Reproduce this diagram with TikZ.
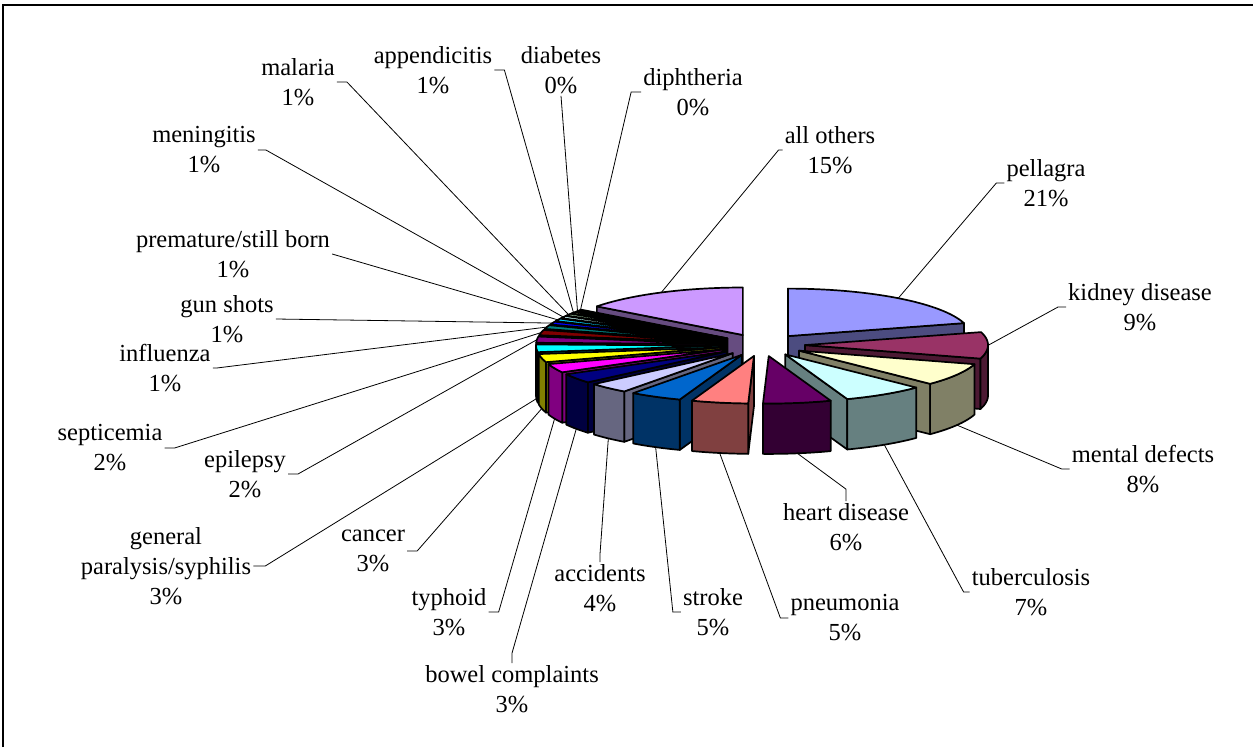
\documentclass[tikz,border=0pt]{standalone}
\usepackage{fontspec}
\setmainfont{Liberation Serif}
\usepackage{tikz}

\newcommand\piehgt{0.285}
\newcommand\pieexpl{0.235}
\newcommand\pieslice[4]{%
  \pgfmathsetmacro\slM{(#1+#2)/2}%
  \pgfmathsetmacro\slX{\pieexpl*sin(\slM)}%
  \pgfmathsetmacro\slY{\pieexpl*cos(\slM)}%
  \definecolor{slicetop}{HTML}{#3}%
  \colorlet{sliceside}{slicetop!50!black}%
  \pgfmathtruncatemacro\slShowA{sin(#1)<-0.001 ? 1 : 0}%
  \pgfmathtruncatemacro\slShowB{sin(#2)>0.001 ? 1 : 0}%
  \pgfmathsetmacro\slLo{max(#1,90)}%
  \pgfmathsetmacro\slHi{min(#2,270)}%
  \pgfmathtruncatemacro\slShowO{\slHi>\slLo ? 1 : 0}%
  \ifnum\slShowA=1
    \filldraw[sliceface,fill=sliceside] (\slX,\slY,0) -- ({\slX+sin(#1)},{\slY+cos(#1)},0) -- ({\slX+sin(#1)},{\slY+cos(#1)},-\piehgt) -- (\slX,\slY,-\piehgt) -- cycle;
  \fi
  \ifnum\slShowB=1
    \filldraw[sliceface,fill=sliceside] (\slX,\slY,0) -- ({\slX+sin(#2)},{\slY+cos(#2)},0) -- ({\slX+sin(#2)},{\slY+cos(#2)},-\piehgt) -- (\slX,\slY,-\piehgt) -- cycle;
  \fi
  \ifnum\slShowO=1
    \filldraw[sliceface,fill=sliceside] plot[domain=\slLo:\slHi,samples=30] ({\slX+sin(\x)},{\slY+cos(\x)},0) -- plot[domain=0:1,samples=30] ({\slX+sin(\slHi+(\slLo-\slHi)*\x)},{\slY+cos(\slHi+(\slLo-\slHi)*\x)},-\piehgt) -- cycle;
  \fi
  \filldraw[sliceface,fill=slicetop] (\slX,\slY,0) -- plot[domain=#1:#2,samples=40] ({\slX+sin(\x)},{\slY+cos(\x)},0) -- cycle;
  \pgfmathsetmacro\slZ{cos(\slM)<-0.01 ? -\piehgt : 0}%
  \coordinate (#4-rim) at ({\slX+sin(\slM)},{\slY+cos(\slM)},\slZ);%
}

\tikzset{
  sliceface/.style={draw=black,line width=1.7pt,line join=round},
  lbl/.style={align=center,inner sep=2pt,font=\fontsize{24.5}{30}\selectfont},
  leader/.style={draw=black,line width=0.8pt}
}

\begin{document}
\begin{tikzpicture}[x=1pt,y=-1pt]
        \useasboundingbox (0,0) rectangle (1253,747);
        \draw[line width=2pt] (3,747) -- (3,5) -- (1253,5);

        \begin{scope}[shift={(762,345)},x={(183pt,0pt)},y={(0pt,47.5pt)},z={(0pt,176.8pt)}]
        \pieslice{307.08}{360}{CC99FF}{others}
        \pieslice{0}{74.16}{9999FF}{pellagra}
        \pieslice{306}{307.08}{FF99CC}{diphtheria}
        \pieslice{304.56}{306}{99CCFF}{diabetes}
        \pieslice{302.4}{304.56}{FFFF99}{appendicitis}
        \pieslice{299.88}{302.4}{CCFFCC}{malaria}
        \pieslice{297}{299.88}{CCFFFF}{meningitis}
        \pieslice{293.76}{297}{00CCFF}{premature}
        \pieslice{290.16}{293.76}{0000FF}{gunshots}
        \pieslice{285.48}{290.16}{008080}{influenza}
        \pieslice{279}{285.48}{800000}{septicemia}
        \pieslice{271.44}{279}{800080}{epilepsy}
        \pieslice{74.16}{106.56}{993366}{kidney}
        \pieslice{262.08}{271.44}{00FFFF}{syphilis}
        \pieslice{252}{262.08}{FFFF00}{cancer}
        \pieslice{106.56}{134.28}{FFFFCC}{mental}
        \pieslice{241.2}{252}{FF00FF}{typhoid}
        \pieslice{229.32}{241.2}{000080}{bowel}
        \pieslice{216.36}{229.32}{CCCCFF}{accidents}
        \pieslice{134.28}{160.2}{CCFFFF}{tuberculosis}
        \pieslice{199.8}{216.36}{0066CC}{stroke}
        \pieslice{181.8}{199.8}{FF8080}{pneumonia}
        \pieslice{160.2}{181.8}{660066}{heart}
        \end{scope}

        \node[lbl] (malaria) at (298,82) {malaria\\1\%};
        \node[lbl] (appendicitis) at (433,70) {appendicitis\\1\%};
        \node[lbl] (diabetes) at (561,70) {diabetes\\0\%};
        \node[lbl] (diphtheria) at (693,92) {diphtheria\\0\%};
        \node[lbl] (others) at (830,150) {all others\\15\%};
        \node[lbl] (pellagra) at (1046,183) {pellagra\\21\%};
        \node[lbl] (kidney) at (1140,307) {kidney disease\\9\%};
        \node[lbl] (mental) at (1143,469) {mental defects\\8\%};
        \node[lbl] (heart) at (846,527) {heart disease\\6\%};
        \node[lbl] (tuberculosis) at (1031,592) {tuberculosis\\7\%};
        \node[lbl] (pneumonia) at (845,618) {pneumonia\\5\%};
        \node[lbl] (stroke) at (713,612) {stroke\\5\%};
        \node[lbl] (accidents) at (600,588) {accidents\\4\%};
        \node[lbl] (bowel) at (512,689) {bowel complaints\\3\%};
        \node[lbl] (typhoid) at (449,612) {typhoid\\3\%};
        \node[lbl] (cancer) at (373,551) {cancer\\3\%};
        \node[lbl] (syphilis) at (166,566) {general\\paralysis/syphilis\\3\%};
        \node[lbl] (epilepsy) at (245,474) {epilepsy\\2\%};
        \node[lbl] (septicemia) at (110,448) {septicemia\\2\%};
        \node[lbl] (influenza) at (165,368) {influenza\\1\%};
        \node[lbl] (gunshots) at (227,319) {gun shots\\1\%};
        \node[lbl] (premature) at (233,254) {premature/still born\\1\%};
        \node[lbl] (meningitis) at (204,150) {meningitis\\1\%};

        \draw[leader] (malaria.east) -- ++(10,0) -- (malaria-rim);
        \draw[leader] (appendicitis.east) -- ++(10,0) -- (appendicitis-rim);
        \draw[leader] (diabetes.south) -- (diabetes-rim);
        \draw[leader] (diphtheria.west) -- ++(-10,0) -- (diphtheria-rim);
        \draw[leader] (others.west) -- ++(-4,0) -- (others-rim);
        \draw[leader] (pellagra.west) -- ++(-8,0) -- (pellagra-rim);
        \draw[leader] (kidney.west) -- ++(-8,0) -- (kidney-rim);
        \draw[leader] (mental.west) -- ++(-8,0) -- (mental-rim);
        \draw[leader] (heart.north) -- ++(0,-12) -- (heart-rim);
        \draw[leader] (tuberculosis.west) -- ++(-6,0) -- (tuberculosis-rim);
        \draw[leader] (pneumonia.west) -- ++(-8,0) -- (pneumonia-rim);
        \draw[leader] (stroke.west) -- ++(-8,0) -- (stroke-rim);
        \draw[leader] (accidents.north) -- ++(0,-8) -- (accidents-rim);
        \draw[leader] (bowel.north) -- ++(0,-10) -- (bowel-rim);
        \draw[leader] (typhoid.east) -- ++(10,0) -- (typhoid-rim);
        \draw[leader] (cancer.east) -- ++(10,0) -- (cancer-rim);
        \draw[leader] (syphilis.east) -- ++(12,0) -- (syphilis-rim);
        \draw[leader] (epilepsy.east) -- ++(10,0) -- (epilepsy-rim);
        \draw[leader] (septicemia.east) -- ++(10,0) -- (septicemia-rim);
        \draw[leader] (influenza.east) -- ++(4,0) -- (influenza-rim);
        \draw[leader] (gunshots.east) -- (gunshots-rim);
        \draw[leader] (premature.east) -- (premature-rim);
        \draw[leader] (meningitis.east) -- ++(8,0) -- (meningitis-rim);
    \end{tikzpicture}
\end{document}
